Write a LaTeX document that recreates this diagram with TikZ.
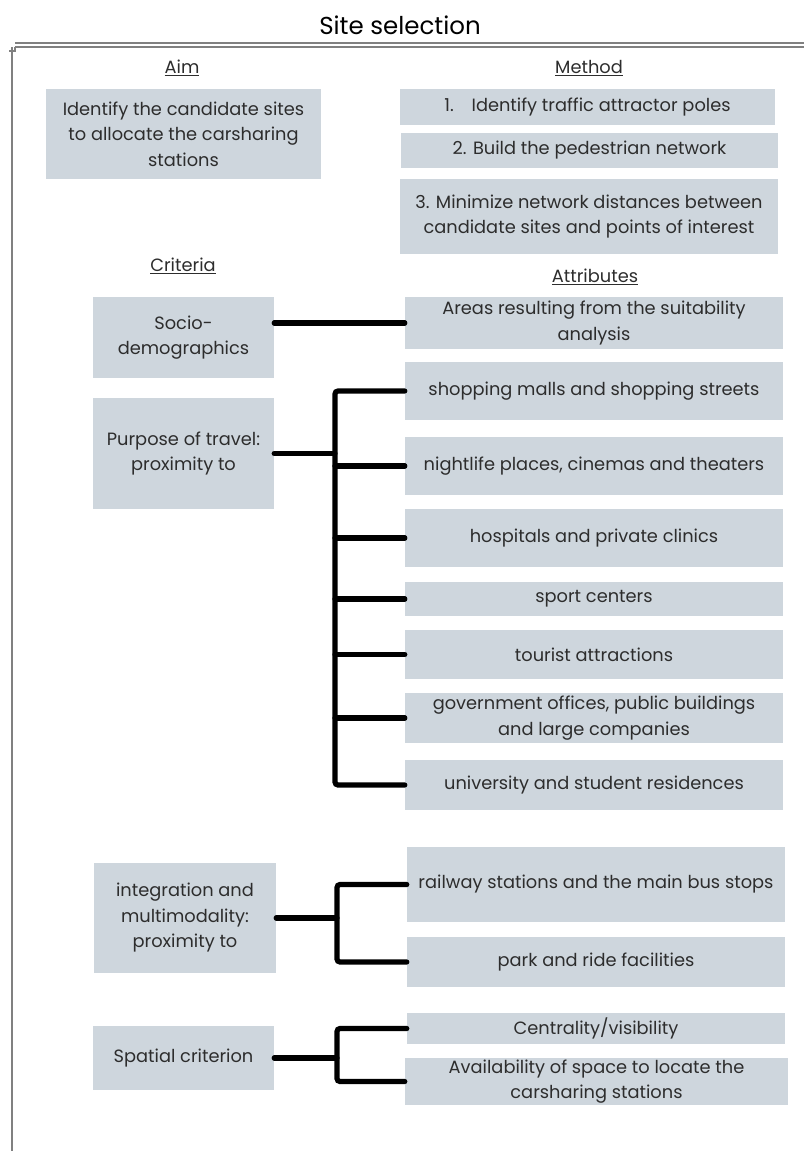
\documentclass[tikz,border=0pt]{standalone}
\usepackage{fontspec}
\setmainfont{Poppins}
\usepackage{tikz}
\definecolor{boxgrey}{RGB}{206, 214, 221}
\definecolor{ink}{RGB}{45, 45, 45}
\newcommand\bodyfont{\fontsize{17.8}{25.5}\selectfont}

\begin{document}
\begin{tikzpicture}[x=1pt, y=-1pt,
  box/.style={fill=boxgrey, text=ink, align=center, inner sep=2pt, font=\bodyfont},
  head/.style={text=ink, font=\bodyfont},
  link/.style={line width=5.2pt, line cap=round}]
  \useasboundingbox (0,0) rectangle (804,1151);

  \draw[]
   (400,25) node[font=\fontsize{24.5}{28}\selectfont](title) {Site selection}
   (182,68) node[head](aimh) {\underline{Aim}}
   (589,68) node[head](methodh) {\underline{Method}}
   (183,266) node[head](critHead) {\underline{Criteria}}
   (595,277) node[head](attrh) {\underline{Attributes}};

  \draw[]
   (183.5,134) node[box, minimum width=275pt, minimum height=90pt](aim)
     {Identify the candidate sites\\ to allocate the carsharing\\ stations}
   (587.5,107) node[box, minimum width=375pt, minimum height=36pt](m1)
     {1.\quad Identify traffic attractor poles}
   (589.5,150.5) node[box, minimum width=377pt, minimum height=35pt](m2)
     {2. Build the pedestrian network}
   (589,216.5) node[box, minimum width=378pt, minimum height=75pt](m3)
     {3. Minimize network distances between\\ candidate sites and points of interest};

  %Criteria
  \draw[]
   (183.5,337.5) node[box, minimum width=181pt, minimum height=81pt](socio) {Socio-\\ demographics}
   (183.5,453.5) node[box, minimum width=181pt, minimum height=111pt](purpose) {Purpose of travel:\\ proximity to}
   (185,918) node[box, minimum width=182pt, minimum height=110pt](integ) {integration and\\ multimodality:\\ proximity to}
   (183.5,1058) node[box, minimum width=181pt, minimum height=64pt](spatial) {Spatial criterion};

  %Attributes
  \draw[]
   (594,323) node[box, minimum width=378pt, minimum height=52pt](areas) {Areas resulting from the suitability\\ analysis}
   (594,391) node[box, minimum width=378pt, minimum height=58pt](shop) {shopping malls and shopping streets}
   (594,466) node[box, minimum width=378pt, minimum height=58pt](night) {nightlife places, cinemas and theaters}
   (594,538) node[box, minimum width=378pt, minimum height=58pt](hosp) {hospitals and private clinics}
   (594,599) node[box, minimum width=378pt, minimum height=34pt](sport) {sport centers}
   (594,654.5) node[box, minimum width=378pt, minimum height=49pt](tour) {tourist attractions}
   (594,718) node[box, minimum width=378pt, minimum height=50pt](gov) {government offices, public buildings\\ and large companies}
   (594,785) node[box, minimum width=378pt, minimum height=50pt](univ) {university and student residences}
   (596,884.5) node[box, minimum width=378pt, minimum height=75pt](rail) {railway stations and the main bus stops}
   (596,962) node[box, minimum width=378pt, minimum height=50pt](park) {park and ride facilities}
   (596,1028.5) node[box, minimum width=378pt, minimum height=31pt](centr) {Centrality/visibility}
   (596.5,1081.5) node[box, minimum width=383pt, minimum height=47pt](avail) {Availability of space to locate the\\ carsharing stations};

  \coordinate (ptrunk) at (335,0);
  \coordinate (itrunk) at (337,0);
  \coordinate (strunk) at (337,0);

  %Links
  \draw[link] (socio.east |- areas.west) -- (areas.west);
  \draw[link] (purpose.east) -- (purpose.east -| ptrunk);
  \draw[link, rounded corners=3pt] (shop.west) -| (ptrunk |- univ.west) -- (univ.west);
  \draw[link]
   (night.west -| ptrunk) -- (night.west)
   (hosp.west -| ptrunk) -- (hosp.west)
   (sport.west -| ptrunk) -- (sport.west)
   (tour.west -| ptrunk) -- (tour.west)
   (gov.west -| ptrunk) -- (gov.west);
  \draw[link] (integ.east) -- (integ.east -| itrunk);
  \draw[link, rounded corners=3pt] (rail.west) -| (itrunk |- park.west) -- (park.west);
  \draw[link] (spatial.east) -- (spatial.east -| strunk);
  \draw[link, rounded corners=3pt] (centr.west) -| (strunk |- avail.west) -- (avail.west);

  %Frame
  \draw[gray, line width=1.1pt] (15,43) -- (804,43) (15,47) -- (804,47);
  \draw[gray, line width=1.1pt] (12,47) -- (12,1151) (9,51) -- (15,51) -- (15,47);
\end{tikzpicture}
\end{document}
